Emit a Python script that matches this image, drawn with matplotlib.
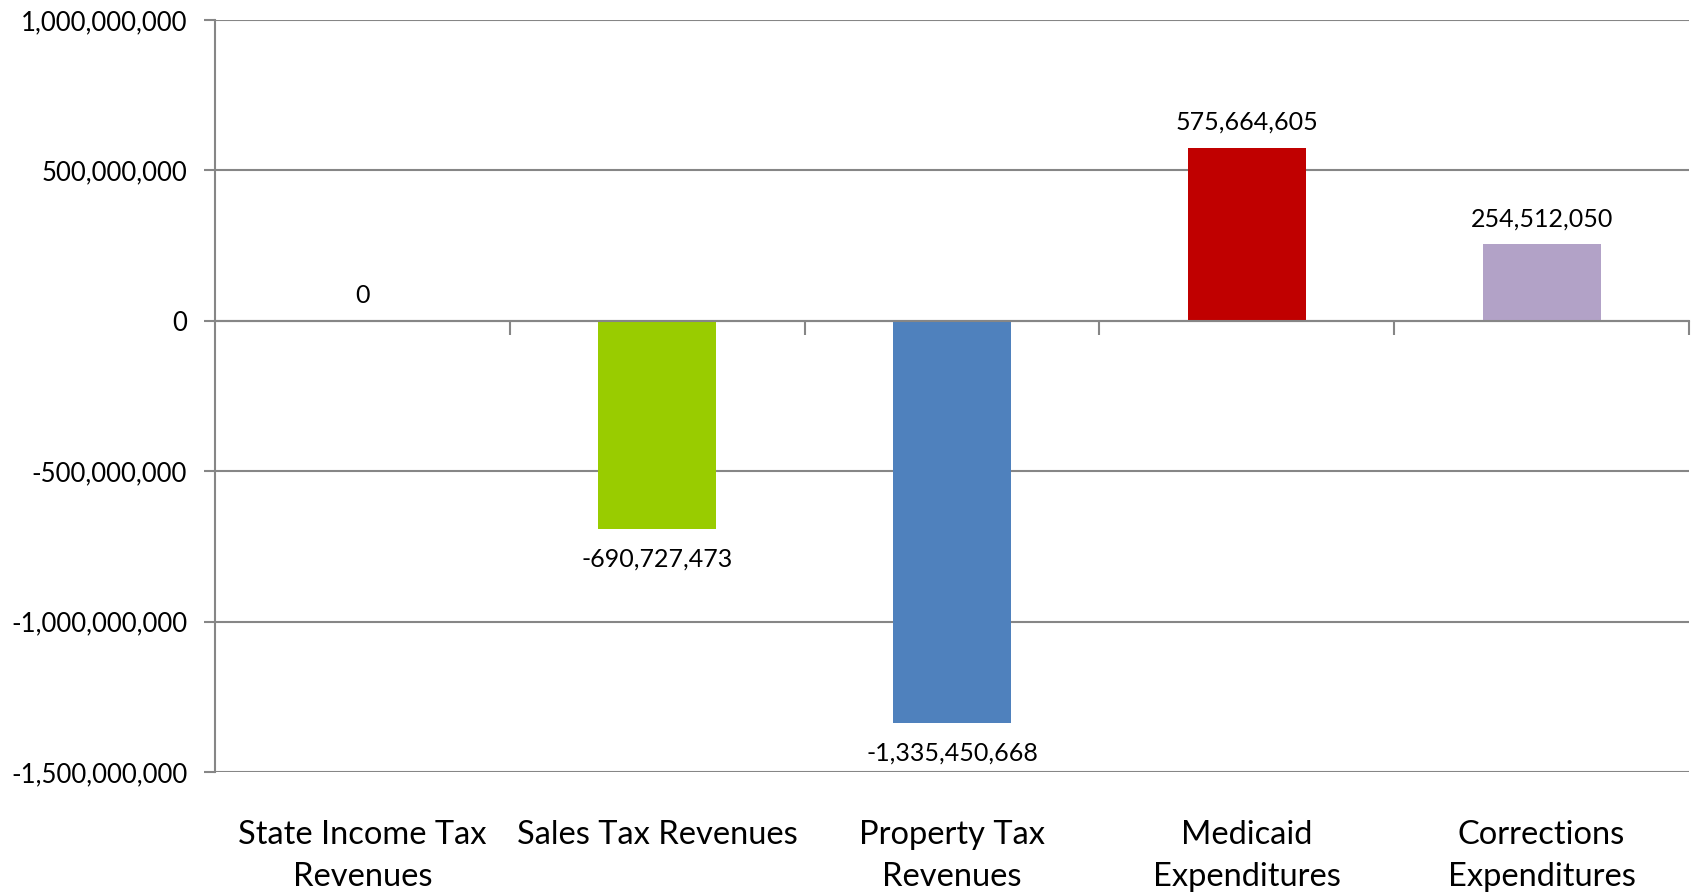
import matplotlib
matplotlib.use("Agg")
from matplotlib import pyplot as plt
import matplotlib.transforms as mtransforms
from matplotlib.ticker import FuncFormatter

categories = ["State Income Tax\nRevenues", "Sales Tax Revenues", "Property Tax\nRevenues",
              "Medicaid\nExpenditures", "Corrections\nExpenditures"]
values = [0, -690727473, -1335450668, 575664605, 254512050]
colors = ["#4F81BD", "#99CC00", "#4F81BD", "#C00000", "#B2A2C7"]
y_ticks = [-1500000000, -1000000000, -500000000, 0, 500000000, 1000000000]

plt.rcParams['font.family'] = ['Lato', 'DejaVu Sans']
grey = '#868686'

fig = plt.figure(figsize=(16.94, 8.94), dpi=100)
ax = fig.add_axes([215 / 1694, 1 - 772 / 894, (1689 - 215) / 1694, (772 - 20) / 894])

x = list(range(len(values)))
ax.bar(x, values, width=0.4, color=colors, zorder=3)

ax.set_xlim(-0.5, len(values) - 0.5)
ax.set_ylim(-1500000000, 1000000000)
ax.set_yticks(y_ticks)
ax.yaxis.set_major_formatter(FuncFormatter(lambda v, p: f"{int(v):,}"))
ax.tick_params(axis='y', length=8, color=grey, width=1.5, labelsize=18.5, pad=12)
ax.yaxis.grid(True, color=grey, linewidth=1.5, zorder=0)

for s in ['top', 'right']:
    ax.spines[s].set_visible(False)
ax.spines['left'].set_color(grey)
ax.spines['left'].set_linewidth(1.5)
ax.spines['bottom'].set_position(('data', 0))
ax.spines['bottom'].set_color(grey)
ax.spines['bottom'].set_linewidth(1.5)
ax.spines['bottom'].set_zorder(4)

# category boundary tick marks on the zero line
ax.set_xticks([i + 0.5 for i in range(len(values))])
ax.set_xticklabels([])
ax.tick_params(axis='x', length=10, color=grey, width=1.5, direction='out')

# category labels under the plot
trans = mtransforms.blended_transform_factory(ax.transData, ax.transAxes)
for i, c in enumerate(categories):
    ax.text(i, -0.064, c, transform=trans, ha='center', va='top', fontsize=23.5,
            linespacing=1.5)

# data labels
for i, v in enumerate(values):
    if v < 0:
        ax.annotate(f"{v:,}", (i, v), xytext=(0, -14), textcoords='offset points',
                    ha='center', va='top', fontsize=18)
    else:
        ax.annotate(f"{v:,}", (i, v), xytext=(0, 10), textcoords='offset points',
                    ha='center', va='bottom', fontsize=18)

fig.savefig("out.png", dpi=100)
